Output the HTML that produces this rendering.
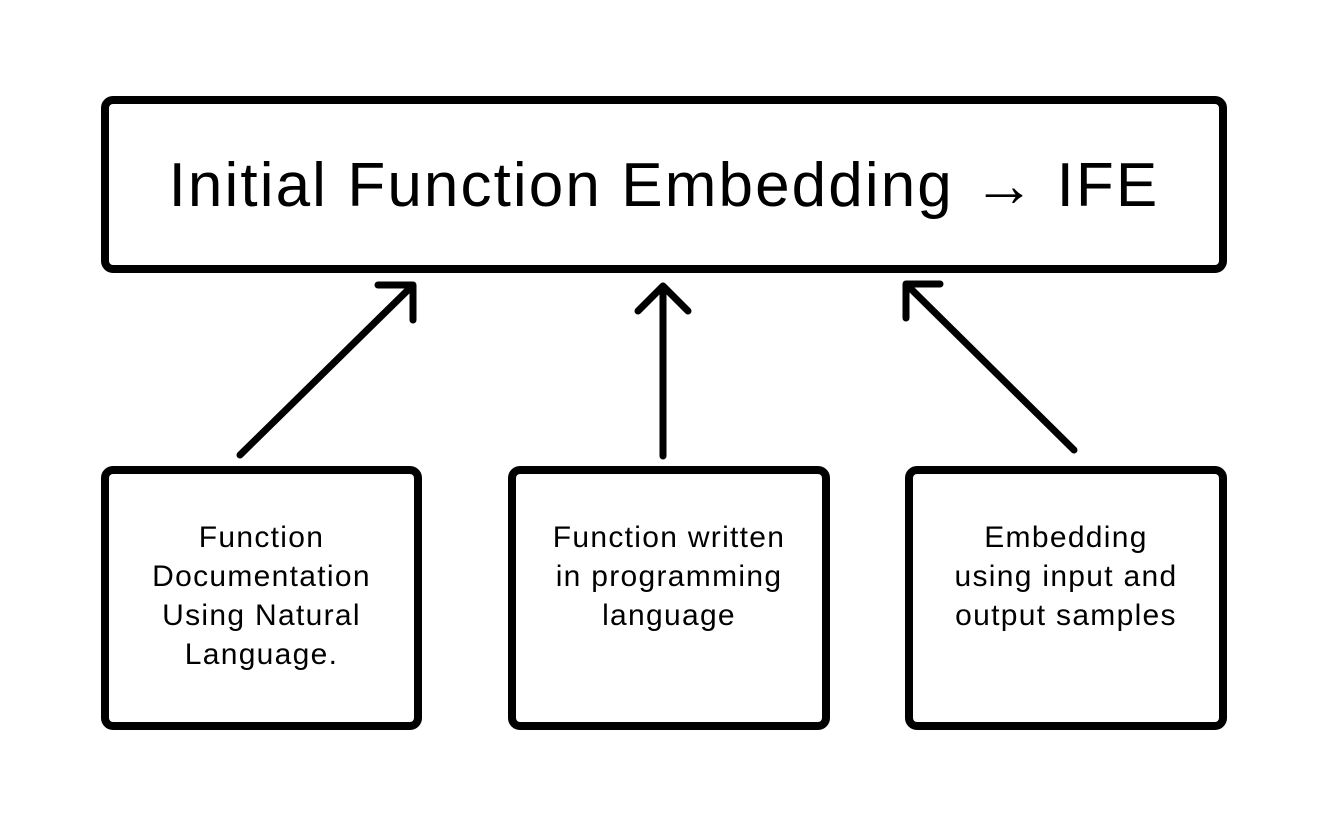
<!DOCTYPE html>
<html><head><style>
body{margin:0;width:1328px;height:828px;background:#fff;overflow:hidden;font-family:"Liberation Sans",sans-serif}
.b{position:absolute;border:8px solid #000;border-radius:12px;box-sizing:border-box;background:#fff}
.t{position:absolute;text-align:center;font-size:30px;line-height:39px;letter-spacing:1.3px;color:#000;width:100%;top:44px}
</style></head><body>
<div class="b" style="left:101px;top:96px;width:1126px;height:177px"></div>
<div style="position:absolute;left:101px;top:148px;width:1126px;text-align:center;font-size:62px;line-height:76px;letter-spacing:2.1px">Initial Function Embedding → IFE</div>
<div class="b" style="left:101px;top:466px;width:321px;height:264px"><div class="t">Function<br>Documentation<br>Using Natural<br>Language.</div></div>
<div class="b" style="left:508px;top:466px;width:322px;height:264px"><div class="t">Function written<br>in programming<br>language</div></div>
<div class="b" style="left:905px;top:466px;width:322px;height:264px"><div class="t">Embedding<br>using input and<br>output samples</div></div>
<svg width="1328" height="828" style="position:absolute;left:0;top:0" fill="none" stroke="#000" stroke-width="7" stroke-linecap="round" stroke-linejoin="round">
<path d="M240 455L413 285M378 285H413V320"/>
<path d="M663 456V286M638 311L663 286L688 311"/>
<path d="M1074 450L906 284M906 318V284H940"/>
</svg>
</body></html>
